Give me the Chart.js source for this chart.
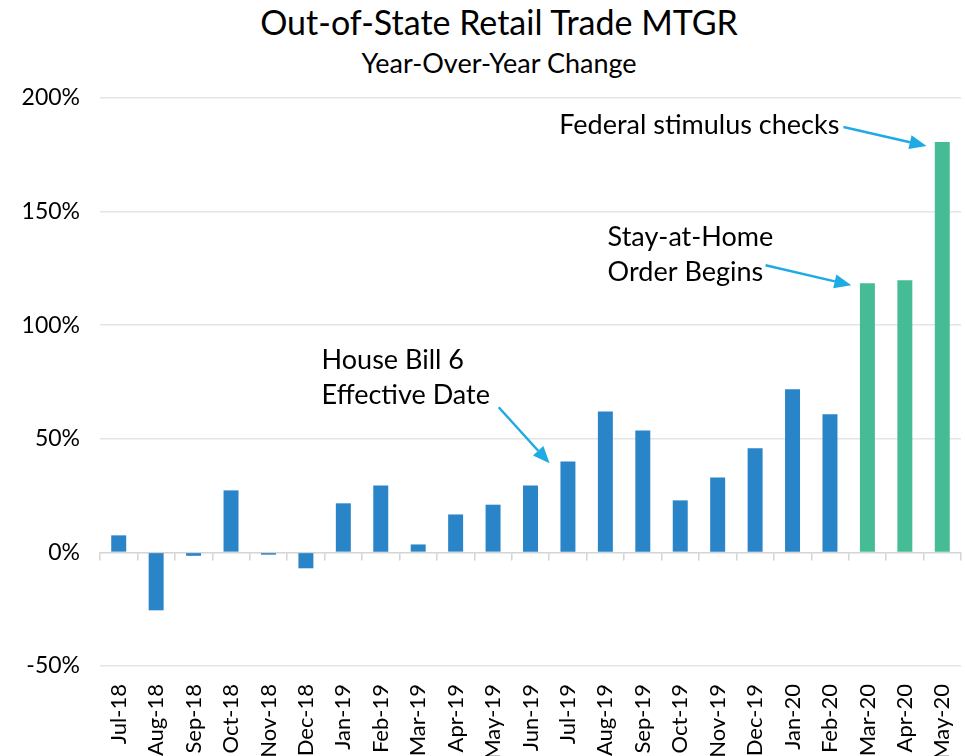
<!DOCTYPE html>
<html>
<head>
<meta charset="utf-8">
<script src="https://cdn.jsdelivr.net/npm/chart.js@4.4.1/dist/chart.umd.min.js"></script>
<style>
  html, body { margin: 0; padding: 0; background: #fff; overflow: hidden; }
  .heading { width: 932px; padding-left: 33px; text-align: center; color: #000;
    font-family: Lato, "Open Sans", sans-serif; white-space: nowrap; }
  #title { font-size: 34px; line-height: 40px; height: 40px; margin-top: 2px; }
  #subtitle { font-size: 27px; line-height: 32px; height: 32px; margin-top: 5px; }
  #wrap { width: 965px; height: 677px; }
</style>
</head>
<body>
<div id="title" class="heading">Out-of-State Retail Trade MTGR</div>
<div id="subtitle" class="heading">Year-Over-Year Change</div>
<div id="wrap"><canvas id="mtgrChart"></canvas></div>
<script>
const months = ['Jul-18', 'Aug-18', 'Sep-18', 'Oct-18', 'Nov-18', 'Dec-18', 'Jan-19', 'Feb-19',
  'Mar-19', 'Apr-19', 'May-19', 'Jun-19', 'Jul-19', 'Aug-19', 'Sep-19', 'Oct-19', 'Nov-19',
  'Dec-19', 'Jan-20', 'Feb-20', 'Mar-20', 'Apr-20', 'May-20'];
const yoyChange = [7.5, -25.5, -1.5, 27.3, -1, -7, 21.6, 29.5, 3.5, 16.7, 21, 29.5, 40,
  62, 53.7, 22.9, 33, 45.8, 71.8, 60.8, 118.5, 119.8, 180.6];
const covidMonths = ['Mar-20', 'Apr-20', 'May-20'];
const yTicks = [-50, 0, 50, 100, 150, 200];

// annotation text + arrows, placed in data units (category index, percent)
const notes = [
  { lines: ['Federal stimulus checks'], align: 'right', at: [19.25, 188], from: [19.36, 187.2], to: [21.58, 178.9] },
  { lines: ['Stay-at-Home', 'Order Begins'], align: 'left', at: [13.06, 138.8], from: [17.28, 126.4], to: [19.57, 117.6] },
  { lines: ['House Bill 6', 'Effective Date'], align: 'left', at: [5.42, 84.6], from: [10.15, 63.9], to: [11.51, 39.2] }
];

const FONT = 'Lato, "Open Sans", sans-serif';
const lineStep = 15.6; // percent units between note lines

const notesPlugin = {
  id: 'notes',
  afterDatasetsDraw(chart) {
    const { ctx, scales: { x, y } } = chart;
    ctx.save();
    notes.forEach(n => {
      ctx.font = '27px ' + FONT;
      ctx.fillStyle = '#000';
      ctx.textAlign = n.align;
      ctx.textBaseline = 'middle';
      n.lines.forEach((t, i) => {
        ctx.fillText(t, x.getPixelForValue(n.at[0]), y.getPixelForValue(n.at[1] - i * lineStep));
      });
      const x1 = x.getPixelForValue(n.from[0]), y1 = y.getPixelForValue(n.from[1]);
      const x2 = x.getPixelForValue(n.to[0]), y2 = y.getPixelForValue(n.to[1]);
      const ang = Math.atan2(y2 - y1, x2 - x1);
      const head = 17, half = 7;
      const bx = x2 - head * Math.cos(ang), by = y2 - head * Math.sin(ang);
      ctx.strokeStyle = '#1eaae4';
      ctx.fillStyle = '#1eaae4';
      ctx.lineWidth = 2.5;
      ctx.beginPath();
      ctx.moveTo(x1, y1);
      ctx.lineTo(bx, by);
      ctx.stroke();
      ctx.beginPath();
      ctx.moveTo(x2, y2);
      ctx.lineTo(bx + half * Math.sin(ang), by - half * Math.cos(ang));
      ctx.lineTo(bx - half * Math.sin(ang), by + half * Math.cos(ang));
      ctx.closePath();
      ctx.fill();
    });
    ctx.restore();
  }
};

new Chart(document.getElementById('mtgrChart'), {
  type: 'bar',
  data: {
    labels: months,
    datasets: [{
      label: 'YoY Change',
      data: yoyChange,
      backgroundColor: months.map(m => covidMonths.includes(m) ? '#45bc96' : '#2a84c8'),
      barPercentage: 0.4,
      categoryPercentage: 1.0,
      xAxisID: 'x'
    }]
  },
  options: {
    responsive: true,
    maintainAspectRatio: false,
    animation: false,
    layout: { padding: { left: 0, right: 4, top: 19, bottom: 0 } },
    plugins: {
      legend: { display: false },
      tooltip: { enabled: false }
    },
    scales: {
      x: {
        position: 'bottom',
        grid: { display: false },
        border: { display: false },
        ticks: {
          color: '#000',
          font: { family: FONT, size: 22 },
          minRotation: 90,
          maxRotation: 90,
          autoSkip: false,
          padding: 10
        },
        afterFit(scale) {
          scale.height = 90;
          scale.paddingLeft = 0;
          scale.paddingRight = 0;
        }
      },
      x2: {
        type: 'category',
        position: { y: 0 },
        offset: true,
        grid: { drawOnChartArea: false, offset: true, tickLength: 7, color: '#d4d4d4', lineWidth: 1.5 },
        border: { color: '#d4d4d4', width: 1.5 },
        ticks: { display: false }
      },
      y: {
        min: -50,
        max: 200,
        afterBuildTicks(scale) { scale.ticks = yTicks.map(v => ({ value: v })); },
        grid: {
          drawTicks: false,
          color: ctx => ctx.tick && ctx.tick.value === 0 ? 'rgba(0,0,0,0)' : '#e2e6e6',
          lineWidth: 1.5
        },
        border: { display: false },
        ticks: {
          color: '#000',
          font: { family: FONT, size: 23 },
          padding: 20,
          callback: v => v + '%'
        },
        afterFit(scale) {
          scale.width = 100;
          scale.paddingTop = 0;
          scale.paddingBottom = 0;
        }
      }
    }
  },
  plugins: [notesPlugin]
});
</script>
</body>
</html>
